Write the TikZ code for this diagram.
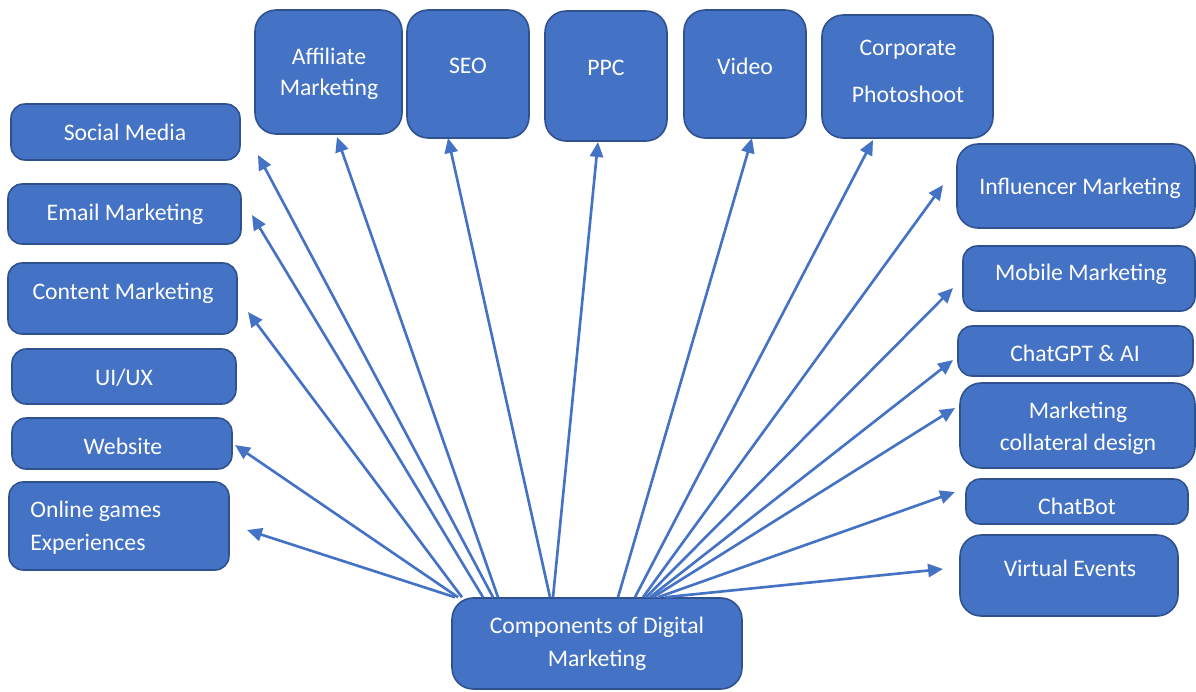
\documentclass[tikz,border=0pt]{standalone}
\usepackage{fontspec}
\setmainfont{Carlito}
\usepackage{tikz}
\usetikzlibrary{calc,arrows.meta}
\definecolor{dmblue}{HTML}{4472C4}
\definecolor{dmedge}{HTML}{2F528F}

\begin{document}
\begin{tikzpicture}[x=0.02cm, y=-0.02cm,
  every node/.style={font=\fontsize{13.5}{17.5}\selectfont},
  comp/.style={fill=dmblue, draw=dmedge, line width=0.9pt, rounded corners=8pt, inner sep=0pt},
  tall/.style={comp, rounded corners=12pt},
  lbl/.style={text=white, align=center, inner sep=0pt},
  link/.style={-{Triangle[length=8.5pt,width=7.5pt]}, dmblue, line width=1.5pt}
]
  \useasboundingbox (0,0) rectangle (1196,691);

  \node[comp, minimum width=4.58cm, minimum height=1.12cm] (social) at (125.5,132) {};
  \node[comp, minimum width=4.66cm, minimum height=1.20cm] (email) at (124.5,214) {};
  \node[comp, minimum width=4.58cm, minimum height=1.42cm] (content) at (122.5,298.5) {};
  \node[comp, minimum width=4.48cm, minimum height=1.10cm] (uiux) at (124,376.5) {};
  \node[comp, minimum width=4.40cm, minimum height=1.02cm] (website) at (122,443.5) {};
  \node[comp, minimum width=4.40cm, minimum height=1.76cm] (games) at (119,526) {};

  \node[tall, minimum width=2.94cm, minimum height=2.48cm] (affiliate) at (328.5,72) {};
  \node[tall, minimum width=2.44cm, minimum height=2.56cm] (seo) at (468,74) {};
  \node[tall, minimum width=2.44cm, minimum height=2.60cm] (ppc) at (606,76) {};
  \node[tall, minimum width=2.44cm, minimum height=2.56cm] (video) at (745,74) {};
  \node[tall, minimum width=3.42cm, minimum height=2.46cm] (photo) at (907.5,76.5) {};

  \node[tall, minimum width=4.76cm, minimum height=1.68cm] (influencer) at (1076,186) {};
  \node[comp, minimum width=4.64cm, minimum height=1.30cm] (mobile) at (1079,278.5) {};
  \node[comp, minimum width=4.70cm, minimum height=1.00cm] (chatgpt) at (1075.5,351) {};
  \node[tall, minimum width=4.70cm, minimum height=1.70cm] (collateral) at (1077.5,425.5) {};
  \node[comp, minimum width=4.44cm, minimum height=0.90cm] (chatbot) at (1077,501.5) {};
  \node[tall, minimum width=4.36cm, minimum height=1.62cm] (virtual) at (1069,575.5) {};

  \node[tall, minimum width=5.80cm, minimum height=1.82cm] (hub) at (597,643.5) {};

  \node[lbl] (social-t) at (125,132) {Social Media};
  \node[lbl] (email-t) at (125,214) {Email Marketing};
  \node[lbl] (content-t) at (123,293) {Content Marketing};
  \node[lbl] (uiux-t) at (124,378) {UI/UX};
  \node[lbl] (website-t) at (123,446) {Website};
  \node[lbl, anchor=west, align=left] (games-t) at (30,527.5) {Online games\\[1pt]Experiences};
  \node[lbl] (affiliate-t) at (329,74) {Affiliate\\Marketing};
  \node[lbl] (seo-t) at (468,66) {SEO};
  \node[lbl] (ppc-t) at (606,68) {PPC};
  \node[lbl] (video-t) at (745,66) {Video};
  \node[lbl] (photo-t) at (908,71.5) {Corporate\\[9.5pt]Photoshoot};
  \node[lbl] (influencer-t) at (1080,188.5) {Influencer Marketing};
  \node[lbl] (mobile-t) at (1081,274) {Mobile Marketing};
  \node[lbl] (chatgpt-t) at (1075,353.5) {ChatGPT \& AI};
  \node[lbl] (collateral-t) at (1078,428.5) {Marketing\\[1pt]collateral design};
  \node[lbl] (chatbot-t) at (1077,506.5) {ChatBot};
  \node[lbl] (virtual-t) at (1070,568) {Virtual Events};
  \node[lbl] (hub-t) at (597,644) {Components of Digital\\[1pt]Marketing};

  \coordinate (social-in) at (258,155);
  \coordinate (email-in) at (252,215);
  \coordinate (content-in) at (248,312);
  \coordinate (website-in) at (235,445);
  \coordinate (games-in) at (247,530);
  \coordinate (affiliate-in) at (337,137);
  \coordinate (seo-in) at (448,138);
  \coordinate (ppc-in) at (598,142);
  \coordinate (video-in) at (752,138);
  \coordinate (photo-in) at (873,140);
  \coordinate (influencer-in) at (943,185);
  \coordinate (mobile-in) at (953,288);
  \coordinate (chatgpt-in) at (953,360);
  \coordinate (collateral-in) at (955,408);
  \coordinate (chatbot-in) at (955,492);
  \coordinate (virtual-in) at (943,569);

  \draw[link] ($(hub.north)+(-142,0)$) -- (games-in);
  \draw[link] ($(hub.north)+(-139,0)$) -- (website-in);
  \draw[link] ($(hub.north)+(-135,0)$) -- (content-in);
  \draw[link] ($(hub.north)+(-114,0)$) -- (email-in);
  \draw[link] ($(hub.north)+(-104,0)$) -- (social-in);
  \draw[link] ($(hub.north)+(-99,0)$) -- (affiliate-in);
  \draw[link] ($(hub.north)+(-47,0)$) -- (seo-in);
  \draw[link] ($(hub.north)+(-44,0)$) -- (ppc-in);
  \draw[link] ($(hub.north)+(21,0)$) -- (video-in);
  \draw[link] ($(hub.north)+(38,0)$) -- (photo-in);
  \draw[link] ($(hub.north)+(46,0)$) -- (influencer-in);
  \draw[link] ($(hub.north)+(49,0)$) -- (mobile-in);
  \draw[link] ($(hub.north)+(53,0)$) -- (chatgpt-in);
  \draw[link] ($(hub.north)+(56,0)$) -- (collateral-in);
  \draw[link] ($(hub.north)+(61,0)$) -- (chatbot-in);
  \draw[link] ($(hub.north)+(68,0)$) -- (virtual-in);
\end{tikzpicture}
\end{document}
